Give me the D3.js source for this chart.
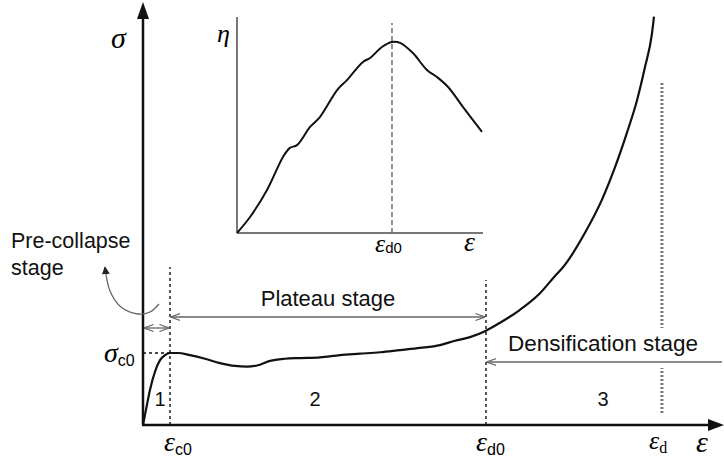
<!DOCTYPE html>
<html>
<head>
    <meta charset="utf-8">
    <title></title>
    <script src="https://d3js.org/d3.v7.min.js"></script>
    <style>
        * { margin: 0; padding: 0; }
        body { background: #fff; }
        text { font-family: "Liberation Sans", Arial, sans-serif; }
        .greek { font-family: "Liberation Serif", "Times New Roman", serif; font-style: italic; }
    </style>
</head>
<body>
    <div id="chart"></div>
    <script>
        // main stress-strain curve: strain (%) and stress (relative to sigma_c0)
        var strain = [0, 0.41, 0.97, 1.66, 2.35, 3.04, 3.73, 4.84, 6.49, 8.57, 10.64, 12.71, 14.37, 15.89,
            17.55, 19.62, 21.69, 24.46, 27.22, 29.98, 32.75, 35.51, 38.27, 41.04, 43.11, 45.18, 47.39,
            49.33, 52.09, 54.85, 56.93, 58.03, 61.07, 63.42, 65.22, 66.87, 68.26, 69.36, 70.33, 70.6];
        var stress = [0, 0.21, 0.49, 0.74, 0.90, 0.97, 1.0, 1.0, 0.97, 0.92, 0.86, 0.82, 0.81, 0.83,
            0.89, 0.92, 0.93, 0.94, 0.97, 0.99, 1.01, 1.04, 1.07, 1.11, 1.17, 1.22, 1.31,
            1.42, 1.60, 1.83, 2.07, 2.19, 2.67, 3.13, 3.58, 4.06, 4.51, 4.97, 5.44, 5.67];

        // characteristic strains
        var epsC0 = 3.73, epsD0 = 47.39, epsD = 71.7, sigmaC0 = 1.0;

        // inset: energy absorption efficiency vs strain (normalised)
        var insetStrain = [0, 0.053, 0.122, 0.187, 0.215, 0.244, 0.297, 0.337, 0.407, 0.447, 0.512,
            0.541, 0.589, 0.630, 0.663, 0.715, 0.772, 0.813, 0.858, 0.919, 0.996];
        var insetEta = [0, 0.074, 0.199, 0.352, 0.394, 0.407, 0.491, 0.537, 0.662, 0.708, 0.792,
            0.810, 0.861, 0.884, 0.880, 0.833, 0.755, 0.722, 0.676, 0.583, 0.468];
        var insetPeak = 0.63;

        var stageNumbers = ["1", "2", "3"];

        var width = 724, height = 466;
        var svg = d3.select("#chart").append("svg")
            .attr("width", width).attr("height", height);

        var x = d3.scaleLinear().domain([0, 80]).range([143, 722]);
        var y = d3.scaleLinear().domain([0, 5.86]).range([425, 3]);

        var defs = svg.append("defs");
        defs.append("marker").attr("id", "open")
            .attr("viewBox", "0 0 10 10").attr("refX", 9.5).attr("refY", 5)
            .attr("markerWidth", 10).attr("markerHeight", 10)
            .attr("markerUnits", "userSpaceOnUse").attr("orient", "auto-start-reverse")
            .append("path").attr("d", "M0,1.5 L10,5 L0,8.5")
            .attr("fill", "none").attr("stroke", "#666").attr("stroke-width", 1.3);
        defs.append("marker").attr("id", "solid")
            .attr("viewBox", "0 0 10 10").attr("refX", 9).attr("refY", 5)
            .attr("markerWidth", 8).attr("markerHeight", 8)
            .attr("markerUnits", "userSpaceOnUse").attr("orient", "auto")
            .append("path").attr("d", "M0,0 L10,5 L0,10 Z").attr("fill", "#222");

        // ---- inset ----
        var ix = d3.scaleLinear().domain([0, 1]).range([237, 483]);
        var iy = d3.scaleLinear().domain([0, 1]).range([233, 17]);
        var inset = svg.append("g");
        inset.append("line").attr("x1", ix(0)).attr("x2", ix(0)).attr("y1", iy(0)).attr("y2", iy(1))
            .attr("stroke", "#777").attr("stroke-width", 2);
        inset.append("line").attr("x1", ix(0)).attr("x2", ix(1)).attr("y1", iy(0)).attr("y2", iy(0))
            .attr("stroke", "#777").attr("stroke-width", 2);
        inset.append("line").attr("x1", ix(insetPeak)).attr("x2", ix(insetPeak))
            .attr("y1", iy(0)).attr("y2", iy(0.972))
            .attr("stroke", "#555").attr("stroke-width", 1.3).attr("stroke-dasharray", "5,3");
        inset.append("path")
            .datum(d3.range(insetStrain.length))
            .attr("fill", "none").attr("stroke", "#111").attr("stroke-width", 2)
            .attr("d", d3.line().curve(d3.curveCatmullRom)
                .x(function (i) { return ix(insetStrain[i]); })
                .y(function (i) { return iy(insetEta[i]); }));
        inset.append("text").attr("class", "greek").attr("x", 217).attr("y", 42)
            .attr("font-size", 26).text("η");
        var ed0 = inset.append("text").attr("x", ix(insetPeak) - 17).attr("y", 252);
        ed0.append("tspan").attr("class", "greek").attr("font-size", 26).text("ε");
        ed0.append("tspan").attr("font-size", 15).attr("dy", 1).text("d0");
        inset.append("text").attr("class", "greek").attr("x", 464).attr("y", 251)
            .attr("font-size", 28).text("ε");

        // ---- guide lines ----
        svg.append("line").attr("x1", x(0)).attr("x2", x(epsC0)).attr("y1", y(sigmaC0)).attr("y2", y(sigmaC0))
            .attr("stroke", "#111").attr("stroke-width", 1.4).attr("stroke-dasharray", "3,3");
        svg.append("line").attr("x1", x(epsC0)).attr("x2", x(epsC0)).attr("y1", y(0)).attr("y2", 267)
            .attr("stroke", "#111").attr("stroke-width", 1.4).attr("stroke-dasharray", "3,3");
        svg.append("line").attr("x1", x(epsD0)).attr("x2", x(epsD0)).attr("y1", y(0)).attr("y2", 280)
            .attr("stroke", "#111").attr("stroke-width", 1.4).attr("stroke-dasharray", "3,3");
        svg.append("line").attr("x1", x(epsD)).attr("x2", x(epsD)).attr("y1", 413).attr("y2", 82)
            .attr("stroke", "#777").attr("stroke-width", 3).attr("stroke-dasharray", "2,2");

        // ---- main curve ----
        svg.append("path")
            .datum(d3.range(strain.length))
            .attr("fill", "none").attr("stroke", "#111").attr("stroke-width", 2.2)
            .attr("d", d3.line().curve(d3.curveMonotoneX)
                .x(function (i) { return x(strain[i]); })
                .y(function (i) { return y(stress[i]); }));

        // ---- axes ----
        svg.append("line").attr("x1", x(0)).attr("x2", x(0)).attr("y1", y(0)).attr("y2", 18)
            .attr("stroke", "#111").attr("stroke-width", 2.5);
        svg.append("path").attr("d", "M" + x(0) + ",2 L" + (x(0) - 6) + ",19 L" + (x(0) + 6) + ",19 Z")
            .attr("fill", "#111");
        svg.append("line").attr("x1", x(0) - 1).attr("x2", 710).attr("y1", y(0)).attr("y2", y(0))
            .attr("stroke", "#111").attr("stroke-width", 2.5);
        svg.append("path").attr("d", "M724," + y(0) + " L708," + (y(0) - 6) + " L708," + (y(0) + 6) + " Z")
            .attr("fill", "#111");

        // ---- stage arrows ----
        function arrow(x1, x2, yy, both) {
            var l = svg.append("line").attr("x1", x1).attr("x2", x2).attr("y1", yy).attr("y2", yy)
                .attr("stroke", "#666").attr("stroke-width", 1.3)
                .attr("marker-end", "url(#open)");
            if (both) l.attr("marker-start", "url(#open)");
        }
        arrow(x(0) + 1, x(epsC0) - 1, 328, true);
        arrow(x(epsC0) + 1, x(epsD0) - 1, 317, true);

        // densification label over the dotted line
        svg.append("rect").attr("x", x(epsD) - 8).attr("y", 328).attr("width", 16).attr("height", 40)
            .attr("fill", "#fff");
        arrow(722, x(epsD0) + 1, 362, false);

        // curved pre-collapse pointer
        var curvePts = [[159, 304], [150, 312], [138, 314], [121, 307], [110, 291], [105, 267]];
        svg.append("path").datum(curvePts)
            .attr("fill", "none").attr("stroke", "#666").attr("stroke-width", 1.3)
            .attr("marker-end", "url(#solid)")
            .attr("d", d3.line().curve(d3.curveCatmullRom));

        // ---- labels ----
        svg.append("text").attr("x", 11).attr("y", 248).attr("font-size", 21.5).attr("fill", "#111")
            .text("Pre-collapse");
        svg.append("text").attr("x", 11).attr("y", 275).attr("font-size", 21.5).attr("fill", "#111")
            .text("stage");
        svg.append("text").attr("x", (x(epsC0) + x(epsD0)) / 2).attr("y", 306).attr("text-anchor", "middle")
            .attr("font-size", 22).attr("fill", "#111").text("Plateau stage");
        svg.append("text").attr("x", 603).attr("y", 351).attr("text-anchor", "middle")
            .attr("font-size", 22.5).attr("fill", "#111").text("Densification stage");

        var stageX = [160, 315, 603];
        svg.selectAll(".stage").data(stageNumbers).enter().append("text")
            .attr("x", function (d, i) { return stageX[i]; }).attr("y", 406)
            .attr("text-anchor", "middle").attr("font-size", 20).attr("fill", "#111")
            .text(function (d) { return d; });

        svg.append("text").attr("class", "greek").attr("x", 111).attr("y", 48)
            .attr("font-size", 30).text("σ");
        var sc = svg.append("text").attr("x", 104).attr("y", 362);
        sc.append("tspan").attr("class", "greek").attr("font-size", 28).text("σ");
        sc.append("tspan").attr("font-size", 16).attr("dy", 4).text("c0");

        var ec = svg.append("text").attr("x", 164).attr("y", 451);
        ec.append("tspan").attr("class", "greek").attr("font-size", 28).text("ε");
        ec.append("tspan").attr("font-size", 16).attr("dy", 4).text("c0");

        var ed = svg.append("text").attr("x", 476).attr("y", 451);
        ed.append("tspan").attr("class", "greek").attr("font-size", 28).text("ε");
        ed.append("tspan").attr("font-size", 16).attr("dy", 4).text("d0");

        var edd = svg.append("text").attr("x", 649).attr("y", 449);
        edd.append("tspan").attr("class", "greek").attr("font-size", 26).text("ε");
        edd.append("tspan").attr("font-family", "Liberation Serif").attr("font-size", 16).attr("dy", 4).text("d");

        svg.append("text").attr("class", "greek").attr("x", 696).attr("y", 452)
            .attr("font-size", 30).text("ε");
    </script>
</body>
</html>
